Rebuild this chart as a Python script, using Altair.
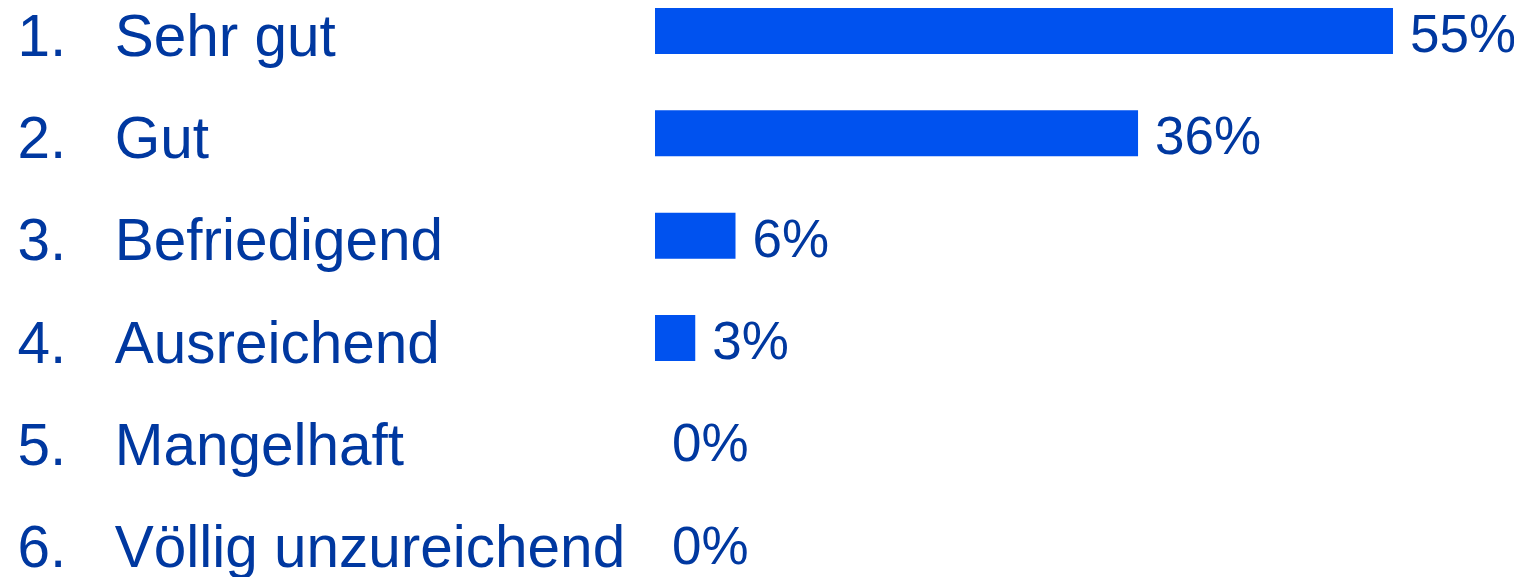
import altair as alt
import pandas as pd

nums = ["1.", "2.", "3.", "4.", "5.", "6."]
labels = ["Sehr gut", "Gut", "Befriedigend", "Ausreichend", "Mangelhaft", "Völlig unzureichend"]
values = [55, 36, 6, 3, 0, 0]
value_labels = ["55%", "36%", "6%", "3%", "0%", "0%"]

df = pd.DataFrame({"num": nums, "label": labels, "value": values, "text": value_labels})

BAR = "#0052EF"
TXT = "#0038A0"
FONT = "Liberation Sans"

y = alt.Y("label:N", sort=labels, axis=None,
          scale=alt.Scale(paddingInner=0.5505, paddingOuter=0))
x = alt.X("value:Q", axis=None, scale=alt.Scale(domain=[0, 55], nice=False, zero=True))

base = alt.Chart(df)
bars = base.mark_bar(color=BAR).encode(x=x, y=y)
vals = base.mark_text(align="left", baseline="alphabetic", dx=17, dy=21,
                      fontSize=53, font=FONT, color=TXT).encode(x=x, y=y, text="text:N")
num_t = base.mark_text(align="left", baseline="alphabetic", dy=24.6,
                       fontSize=58.5, font=FONT, color=TXT).encode(
    x=alt.value(-637.5), y=y, text="num:N")
lab_t = base.mark_text(align="left", baseline="alphabetic", dy=24.6,
                       fontSize=58.5, font=FONT, color=TXT).encode(
    x=alt.value(-540.3), y=y, text="label:N")

chart = alt.layer(bars, vals, num_t, lab_t).properties(
    width=738, height=557.6,
    autosize=alt.AutoSizeParams(type="none"),
    padding={"left": 647, "top": 0, "right": 121, "bottom": 11},
).configure_view(stroke=None)

chart.save("out.html", embed_options={"renderer": "svg", "actions": False})
